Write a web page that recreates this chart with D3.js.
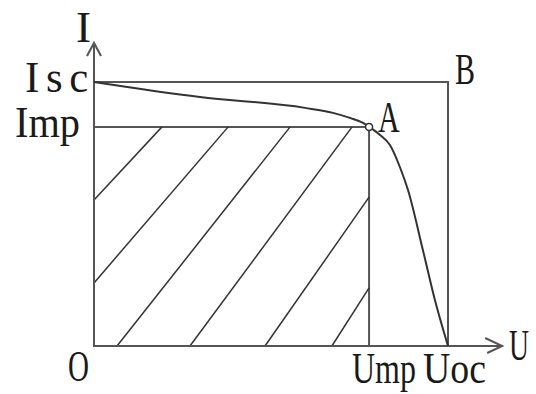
<!DOCTYPE html>
<html>
<head>
<meta charset="utf-8">
<script src="https://cdn.jsdelivr.net/npm/d3@7"></script>
<style>
  html, body { margin: 0; padding: 0; background: #fff; }
  text { font-family: "Liberation Serif", "DejaVu Serif", serif; fill: #1a1a1a; }
</style>
</head>
<body>
<svg id="chart" width="536" height="394"></svg>
<script>
// values in relative units (Uoc = 100, Isc = 100)
const Uoc = 100, Isc = 100;
const Ump = 77.7, Imp = 83;
const uAxisMax = 115.3, iAxisMax = 114.8;

// I-U curve
const curveU = [0, 29.9, 59.6, 67.5, 72.3, 76.0, 77.7, 80.8, 83.6, 86.4, 88.7, 92.9, 96.3, 100];
const curveI = [100, 94.3, 90.2, 88.3, 86.4, 84.5, 83.0, 79.9, 76.1, 67.8, 59.1, 36.4, 17.4, 0];

// hatch lines inside the Ump x Imp rectangle: [u1, i1, u2, i2]
const hatch = [
    [19.2, 83, 0, 55.3],
    [37.9, 83, 0, 23.9],
    [55.4, 83, 6.5, 0],
    [72.9, 83, 27.1, 0],
    [77.7, 56.4, 48.3, 0],
    [77.7, 22, 67.2, 0]
];

const xLabels = ["O", "Ump", "Uoc"];
const yLabels = ["Isc", "Imp"];

const svg = d3.select("#chart");

const x = d3.scaleLinear().domain([0, Uoc]).range([94, 448]);
const y = d3.scaleLinear().domain([0, Isc]).range([346, 82]);

const lineCol = "#555";
const g = svg.append("g");

// box O-Isc-B-Uoc
g.append("rect")
    .attr("x", x(0)).attr("y", y(Isc))
    .attr("width", x(Uoc) - x(0)).attr("height", y(0) - y(Isc))
    .style("fill", "none").style("stroke", lineCol).style("stroke-width", 2);

// Imp horizontal and Ump vertical
g.append("line")
    .attr("x1", x(0)).attr("x2", x(Ump)).attr("y1", y(Imp)).attr("y2", y(Imp))
    .style("stroke", lineCol).style("stroke-width", 2);
g.append("line")
    .attr("x1", x(Ump)).attr("x2", x(Ump)).attr("y1", y(Imp)).attr("y2", y(0))
    .style("stroke", lineCol).style("stroke-width", 2);

// hatch
g.selectAll("line.hatch")
    .data(hatch)
    .enter()
    .append("line")
    .attr("class", "hatch")
    .attr("x1", d => x(d[0])).attr("y1", d => y(d[1]))
    .attr("x2", d => x(d[2])).attr("y2", d => y(d[3]))
    .style("stroke", "#333").style("stroke-width", 1.5);

// axes with arrows
g.append("line")
    .attr("x1", x(0)).attr("x2", x(uAxisMax)).attr("y1", y(0)).attr("y2", y(0))
    .style("stroke", lineCol).style("stroke-width", 2);
g.append("line")
    .attr("x1", x(0)).attr("x2", x(0)).attr("y1", y(0)).attr("y2", y(iAxisMax))
    .style("stroke", lineCol).style("stroke-width", 2);

const ax = x(uAxisMax), ay = y(0);
g.append("path")
    .attr("d", `M${ax - 17},${ay - 8}L${ax},${ay}L${ax - 15},${ay + 7}`)
    .style("fill", "none").style("stroke", lineCol).style("stroke-width", 2);
const bx = x(0), by = y(iAxisMax);
g.append("path")
    .attr("d", `M${bx - 7},${by + 13}L${bx},${by}L${bx + 7},${by + 13}`)
    .style("fill", "none").style("stroke", lineCol).style("stroke-width", 2);

// curve
const pts = curveU.map((u, i) => [u, curveI[i]]);
const line = d3.line()
    .x(d => x(d[0]))
    .y(d => y(d[1]))
    .curve(d3.curveMonotoneX);
g.append("path")
    .datum(pts)
    .attr("d", line)
    .style("fill", "none").style("stroke", "#333").style("stroke-width", 2);

// point A
g.append("circle")
    .attr("cx", x(Ump)).attr("cy", y(Imp)).attr("r", 3.5)
    .style("fill", "#fff").style("stroke", "#333").style("stroke-width", 1.5);

// labels: the picture's serif is narrow, so squeeze each one horizontally
const fs = 45;
function label(txt, px, py, w, spacing) {
    const t = svg.append("text")
        .style("font-size", fs + "px")
        .style("letter-spacing", (spacing || 0) + "px")
        .text(txt);
    const natural = t.node().getBBox().width;
    const k = w / natural;
    t.attr("transform", `translate(${px},${py}) scale(${k},1)`);
    return t;
}

label(xLabels[0], 68, 381, 21);
label(xLabels[1], 352, 383, 64);
label(xLabels[2], 423, 383, 63);
label("U", 509, 360, 20);

label("I", 76, 42, 15);
label(yLabels[0], 25, 92, 70, 7);
label(yLabels[1], 15, 137, 65);
label("A", 378, 132, 22);
label("B", 455, 84, 20);
</script>
</body>
</html>
